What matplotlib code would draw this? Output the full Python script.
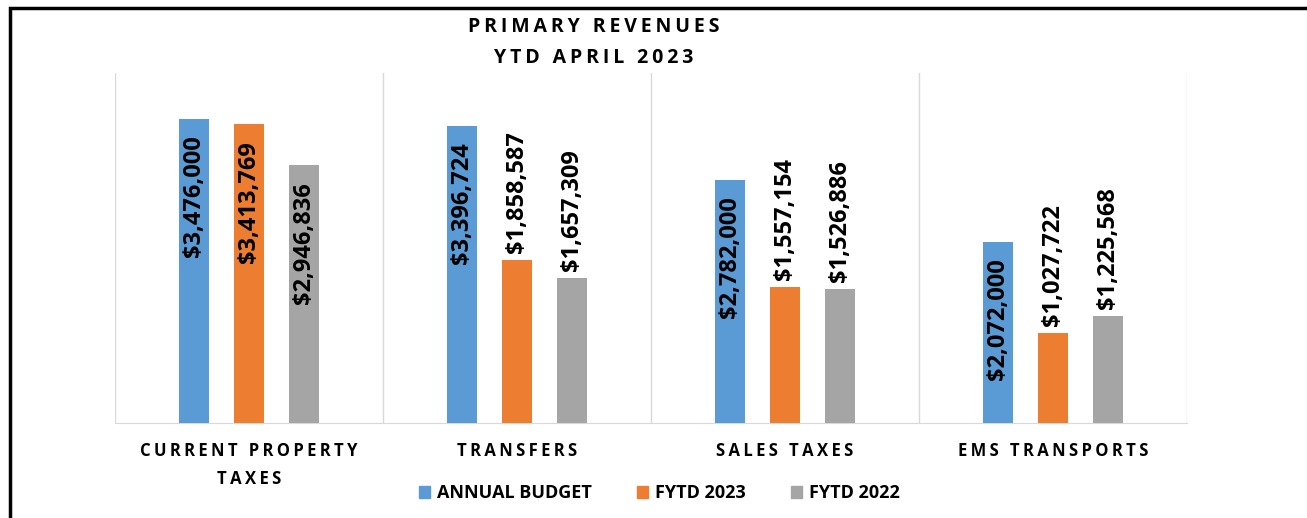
import numpy as np
import matplotlib
matplotlib.use("Agg")
import matplotlib.pyplot as plt
from matplotlib.patches import Rectangle

categories = ["CURRENT PROPERTY\nTAXES", "TRANSFERS", "SALES TAXES", "EMS TRANSPORTS"]
series_names = ["ANNUAL BUDGET", "FYTD 2023", "FYTD 2022"]
annual_budget = [3476000, 3396724, 2782000, 2072000]
fytd_2023 = [3413769, 1858587, 1557154, 1027722]
fytd_2022 = [2946836, 1657309, 1526886, 1225568]

colors = ["#5B9BD5", "#ED7D31", "#A5A5A5"]
label_pos = ["inside", "outside", "outside"]

W, H = 1307, 518
fig = plt.figure(figsize=(W / 100, H / 100), dpi=100)
ax = fig.add_axes([115 / W, 1 - 423 / H, (1187 - 115) / W, (423 - 73) / H])

SP = "\u2009"


def spaced(s):
    # fake letter spacing with thin spaces
    return "\n".join(SP.join(line) for line in s.split("\n"))


fam = ["Open Sans", "DejaVu Sans"]

x = np.arange(len(categories)) + 0.5
offs = [-0.207, 0.0, 0.207]
bw = 0.112
ymax = 4000000
label_len = 140 / 350 * ymax  # rough label length in data units

for vals, c, off, pos in zip([annual_budget, fytd_2023, fytd_2022], colors, offs, label_pos):
    ax.bar(x + off, vals, width=bw, color=c, zorder=3)
    for xi, v in zip(x + off, vals):
        txt = "${:,}".format(v)
        fits = v + label_len < ymax
        if pos == "outside" and fits:
            ax.annotate(txt, (xi, v), xytext=(0, 5), textcoords="offset points",
                        rotation=90, ha="center", va="bottom", fontsize=17,
                        fontweight="bold", family=fam, color="black", zorder=4)
        else:
            ax.annotate(txt, (xi, v), xytext=(0, -12), textcoords="offset points",
                        rotation=90, ha="center", va="top", fontsize=17,
                        fontweight="bold", family=fam, color="black", zorder=4)

ax.set_xlim(0, len(categories))
ax.set_ylim(0, ymax)
ax.set_yticks([])
ax.set_xticks([])
for xv in range(len(categories) + 1):
    ax.axvline(xv, color="#D9D9D9", lw=1, zorder=1)
for s in ["top", "right", "left"]:
    ax.spines[s].set_visible(False)
ax.spines["bottom"].set_color("#D9D9D9")
ax.spines["bottom"].set_zorder(2)

for xi, cat in zip(x, categories):
    ax.text(xi, -0.055, spaced(cat), transform=ax.get_xaxis_transform(),
            ha="center", va="top", fontsize=12, fontweight="bold",
            family=fam, linespacing=1.7)

fig.text(594 / W, 1 - 27 / H, spaced("PRIMARY REVENUES"), ha="center", va="center",
         fontsize=14, fontweight="bold", family=fam)
fig.text(594 / W, 1 - 58 / H, spaced("YTD APRIL 2023"), ha="center", va="center",
         fontsize=14, fontweight="bold", family=fam)

handles = [Rectangle((0, 0), 1, 1, color=c) for c in colors]
fig.legend(handles, series_names, loc="center", bbox_to_anchor=(659 / W, 1 - 493 / H),
           ncol=3, frameon=False, handlelength=0.65, handleheight=0.65,
           handletextpad=0.35, columnspacing=2.5,
           prop={"family": fam, "weight": "bold", "size": 13})

fig.add_artist(Rectangle((10 / W, -0.2), 1.2, (H - 8) / H + 0.2, transform=fig.transFigure,
                         fill=False, ec="black", lw=2.5, clip_on=False))

fig.savefig("out.png", dpi=100, facecolor="white")
